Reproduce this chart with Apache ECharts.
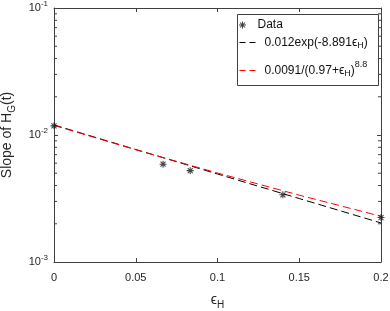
<!DOCTYPE html>
<html><head><meta charset="utf-8">
<script src="https://cdn.jsdelivr.net/npm/echarts@6/dist/echarts.min.js"></script>
<style>html,body{margin:0;padding:0;background:#fff}#c{width:390px;height:311px}</style>
</head><body><div id="c"></div>
<script>
// Data
var dataX = [0, 0.0667, 0.0833, 0.14, 0.2];
var dataY = [0.0118, 0.00589, 0.00524, 0.00338, 0.00224];
var fitX = [0, 0.05, 0.1, 0.15, 0.2];
var expFitY = [0.0120, 0.00769, 0.00493, 0.00316, 0.00203];
var powFitY = [0.0119, 0.00765, 0.00502, 0.00336, 0.00229];
var xTicks = [0, 0.05, 0.1, 0.15, 0.2];
var yTickExps = [-3, -2, -1];
var yMinorTicks = [0.002,0.003,0.004,0.005,0.006,0.007,0.008,0.009,0.02,0.03,0.04,0.05,0.06,0.07,0.08,0.09];
var legendNames = ['Data', '0.012exp(-8.891ϵH)', '0.0091/(0.97+ϵH)^8.8'];

function pairs(xs, ys){ return xs.map(function(x,i){return [x, ys[i]];}); }

var axisColor = '#404040';
var font = 'Liberation Sans, Arial, Helvetica, sans-serif';
var star = 'path://M8.5 0 L11.5 0 L11.5 20 L8.5 20 Z M0 8.5 L20 8.5 L20 11.5 L0 11.5 Z M1.8 3.9 L3.9 1.8 L18.2 16.1 L16.1 18.2 Z M16.1 1.8 L18.2 3.9 L3.9 18.2 L1.8 16.1 Z';

var chart = echarts.init(document.getElementById('c'), null, {renderer: 'canvas'});
var supRich = {
  b: {fontSize: 11, fontFamily: font, color: '#262626'},
  s: {fontSize: 8, fontFamily: font, color: '#262626', padding: [0, 0, 8, 0]}
};
var dashLegend = [6, 4];
var lc = '#111';
var legendText = {
  fontSize: 12, color: lc, fontFamily: font,
  rich: {
    n: {fontSize: 12, color: lc, fontFamily: font},
    sub: {fontSize: 9, color: lc, fontFamily: font, lineHeight: 10, padding: [6, 0, 0, 0]},
    sup: {fontSize: 9, color: lc, fontFamily: font, lineHeight: 10, padding: [0, 0, 12, 0]}
  }
};
function legendFmt(name){
  if (name === legendNames[1]) return '{n|0.012exp(-8.891ϵ}{sub|H}{n|)}';
  if (name === legendNames[2]) return '{n|0.0091/(0.97+ϵ}{sub|H}{n|)}{sup|8.8}';
  return '{n|' + name + '}';
}
function makeLegend(item, top){
  return {
    data: [item], orient: 'vertical', left: 239, top: top, padding: 0,
    itemWidth: 20, itemHeight: 7, textStyle: legendText, formatter: legendFmt
  };
}
chart.setOption({
  animation: false,
  textStyle: {fontFamily: font},
  grid: {left: 54, right: 9, top: 8, bottom: 49, outerBoundsMode: 'none', containLabel: false},
  graphic: [{
    type: 'rect', z: 3, silent: true,
    shape: {x: 237.5, y: 14.5, width: 141, height: 71},
    style: {fill: '#fff', stroke: axisColor, lineWidth: 1}
  }],
  legend: [
    makeLegend({name: legendNames[0]}, 19),
    makeLegend({name: legendNames[1], itemStyle: {opacity: 0}, lineStyle: {type: dashLegend, width: 1, color: '#000'}}, 35),
    makeLegend({name: legendNames[2], itemStyle: {opacity: 0}, lineStyle: {type: dashLegend, width: 1, color: '#ff0000'}}, 60)
  ],
  xAxis: [{
    type: 'value', min: xTicks[0], max: xTicks[xTicks.length-1], interval: 0.05,
    axisLine: {lineStyle: {color: axisColor}},
    axisTick: {inside: true, length: 4, lineStyle: {color: axisColor}},
    splitLine: {show: false},
    axisLabel: {fontSize: 11, color: '#262626', margin: 10},
    name: '{e|ϵ}{sub|H}', nameLocation: 'middle', nameGap: 29,
    nameTextStyle: {rich: {
      e: {fontSize: 14, color: '#262626', fontFamily: font},
      sub: {fontSize: 10, color: '#262626', fontFamily: font, padding: [9, 0, 0, 0]}
    }}
  }, {
    type: 'value', position: 'top', min: xTicks[0], max: xTicks[xTicks.length-1], interval: 0.05,
    axisLine: {show: true, onZero: false, lineStyle: {color: axisColor}},
    axisTick: {inside: true, length: 4, lineStyle: {color: axisColor}},
    axisLabel: {show: false}, splitLine: {show: false}
  }],
  yAxis: [{
    type: 'log', logBase: 10, min: Math.pow(10, yTickExps[0]), max: Math.pow(10, yTickExps[yTickExps.length-1]),
    axisLine: {show: true, onZero: false, lineStyle: {color: axisColor}},
    axisTick: {inside: true, length: 4, lineStyle: {color: axisColor}},
    splitLine: {show: false},
    axisLabel: {
      margin: 6,
      formatter: function(v){ return '{b|10}{s|' + Math.round(Math.log10(v)) + '}'; },
      rich: supRich
    },
    name: '{n|Slope of H}{sub|G}{n|(t)}', nameLocation: 'middle', nameGap: 37, nameRotate: 90,
    nameTextStyle: {rich: {
      n: {fontSize: 14, color: '#262626', fontFamily: font},
      sub: {fontSize: 10, color: '#262626', fontFamily: font, padding: [9, 0, 0, 0]}
    }}
  }, {
    type: 'log', logBase: 10, position: 'right', min: Math.pow(10, yTickExps[0]), max: Math.pow(10, yTickExps[yTickExps.length-1]),
    axisLine: {show: true, onZero: false, lineStyle: {color: axisColor}},
    axisTick: {inside: true, length: 4, lineStyle: {color: axisColor}},
    axisLabel: {show: false}, splitLine: {show: false}
  }],
  series: [{
    name: legendNames[0], type: 'scatter', data: pairs(dataX, dataY),
    symbol: star, symbolSize: 7, itemStyle: {color: '#111'}, z: 5
  }, {
    name: legendNames[1], type: 'line', data: pairs(fitX, expFitY), symbol: 'none',
    lineStyle: {color: '#000', width: 1, type: [8, 4]}, itemStyle: {color: '#000'}
  }, {
    name: legendNames[2], type: 'line', data: pairs(fitX, powFitY), symbol: 'none', smooth: false,
    lineStyle: {color: '#ff0000', width: 1, type: [8, 4]}, itemStyle: {color: '#ff0000'}, z: 3
  }, {
    type: 'custom', silent: true, data: yMinorTicks.map(function(v){ return [0, v]; }),
    renderItem: function(params, api){
      var v = api.value(1);
      var l = api.coord([xTicks[0], v]);
      var r = api.coord([xTicks[xTicks.length-1], v]);
      var s = {stroke: axisColor, lineWidth: 1};
      return {type: 'group', children: [
        {type: 'line', shape: {x1: l[0], y1: l[1], x2: l[0] + 3, y2: l[1]}, style: s},
        {type: 'line', shape: {x1: r[0], y1: r[1], x2: r[0] - 3, y2: r[1]}, style: s}
      ]};
    }
  }]
});
</script></body></html>
